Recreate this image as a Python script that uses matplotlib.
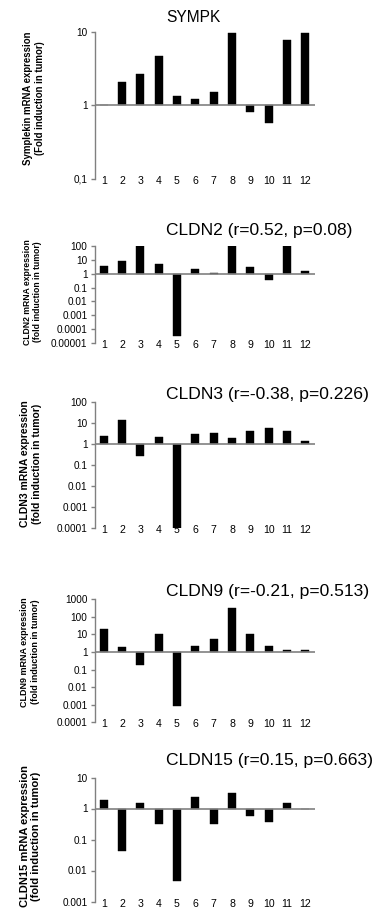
import matplotlib
matplotlib.use("Agg")
import matplotlib.pyplot as plt
import numpy as np

plt.rcParams['font.family'] = ['Liberation Sans', 'DejaVu Sans']

categories = [str(i) for i in range(1, 13)]

sympk = [1.0, 2.08, 2.66, 4.73, 1.34, 1.21, 1.51, 9.8, 0.81, 0.58, 7.8, 9.8]
cldn2 = [3.35, 8.0, 92, 5.2, 3.2e-5, 2.1, 1.18, 100, 2.8, 0.33, 100, 1.5]
cldn3 = [2.5, 15, 0.27, 2.2, 1.0e-4, 3.2, 3.5, 2.0, 4.5, 5.8, 4.5, 1.4]
cldn9 = [19.6, 1.85, 0.19, 10.6, 8.3e-4, 2.1, 5.3, 310, 11, 2.2, 1.3, 1.3]
cldn15 = [1.9, 0.043, 1.56, 0.31, 4.7e-3, 2.37, 0.31, 3.1, 0.57, 0.37, 1.45, 1.0]

titles = ["SYMPK", "CLDN2 (r=0.52, p=0.08)", "CLDN3 (r=-0.38, p=0.226)",
          "CLDN9 (r=-0.21, p=0.513)", "CLDN15 (r=0.15, p=0.663)"]
ylabels = ["Symplekin mRNA expression\n(Fold induction in tumor)",
           "CLDN2 mRNA expression\n(fold induction in tumor)",
           "CLDN3 mRNA expression\n(fold induction in tumor)",
           "CLDN9 mRNA expression\n(fold induction in tumor)",
           "CLDN15 mRNA expression\n(fold induction in tumor)"]
yticks = [[0.1, 1, 10],
          [1e-5, 1e-4, 1e-3, 1e-2, 0.1, 1, 10, 100],
          [1e-4, 1e-3, 1e-2, 0.1, 1, 10, 100],
          [1e-4, 1e-3, 1e-2, 0.1, 1, 10, 100, 1000],
          [1e-3, 1e-2, 0.1, 1, 10]]
yticklabels = [["0,1", "1", "10"],
               ["0.00001", "0.0001", "0.001", "0.01", "0.1", "1", "10", "100"],
               ["0.0001", "0.001", "0.01", "0.1", "1", "10", "100"],
               ["0.0001", "0.001", "0.01", "0.1", "1", "10", "100", "1000"],
               ["0.001", "0.01", "0.1", "1", "10"]]
series = [sympk, cldn2, cldn3, cldn9, cldn15]

W, H = 388, 909
fig = plt.figure(figsize=(W / 100, H / 100), dpi=100)

# pixel layout (top, bottom) of each plot area
rows = [(32, 178.5), (245.7, 343.3), (402.3, 528.3), (599.3, 722.3), (777.5, 901.5)]
left_px, right_px = 94.5, 314.5
title_y = [18, 230, 395, 591.7, 760]
title_size = [11.2, 12.5, 12.6, 12.6, 12.6]
ylab_y = [98, 292, 464, 652, 836]
ylab_size = [6.9, 6.2, 7.5, 6.5, 8.0]
ylab_x = [34, 32.5, 31, 30, 30.5]

axis_gray = '#808080'
x = np.arange(1, 13)

for i in range(5):
    top, bot = rows[i]
    ax = fig.add_axes([left_px / W, 1 - bot / H, (right_px - left_px) / W, (bot - top) / H])
    vals = np.array(series[i], dtype=float)
    ax.set_yscale('log')
    ax.bar(x, vals - 1.0, bottom=1.0, width=0.42, color='black', edgecolor='black',
           linewidth=0.3, zorder=2)
    ax.axhline(1.0, color=axis_gray, lw=1.2, zorder=3)
    ax.set_xlim(0.5, 12.5)
    ax.set_ylim(yticks[i][0], yticks[i][-1])
    ax.set_yticks(yticks[i])
    ax.set_yticklabels(yticklabels[i])
    ax.minorticks_off()
    ax.set_xticks(x)
    ax.set_xticklabels(categories)
    for s in ['top', 'right', 'bottom']:
        ax.spines[s].set_visible(False)
    ax.spines['left'].set_color(axis_gray)
    ax.spines['left'].set_linewidth(1.0)
    ax.tick_params(axis='y', direction='out', length=3, width=1.0, color=axis_gray,
                   labelsize=7.2, pad=2)
    ax.tick_params(axis='x', length=0, labelsize=7.6, pad=1.5)
    for lab in ax.get_xticklabels():
        lab.set_verticalalignment('center')
    ax.patch.set_alpha(0)
    fig.text(166 / W, 1 - title_y[i] / H, titles[i], ha='left', va='center',
             fontsize=title_size[i])
    fig.text(ylab_x[i] / W, 1 - ylab_y[i] / H, ylabels[i], rotation=90, ha='center',
             va='center', multialignment='center', fontsize=ylab_size[i],
             fontweight='bold', linespacing=1.15)

fig.savefig('out.png', dpi=100, facecolor='white')
